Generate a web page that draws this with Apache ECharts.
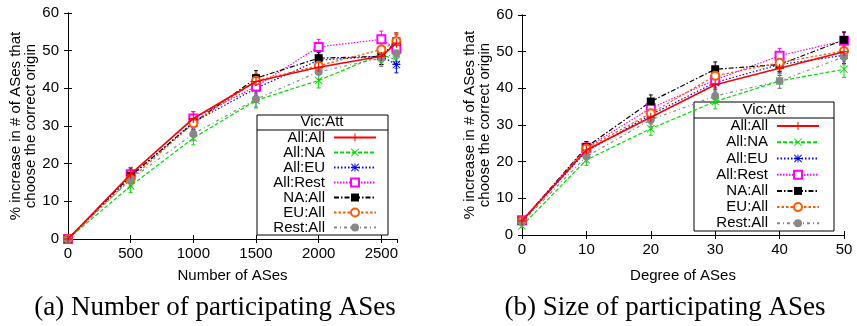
<!DOCTYPE html>
<html>
<head>
<meta charset="utf-8">
<script src="https://cdn.jsdelivr.net/npm/echarts@6/dist/echarts.min.js"></script>
<style>
html, body { margin: 0; padding: 0; background: #fff; }
#chart { width: 857px; height: 326px; }
</style>
</head>
<body>
<div id="chart"></div>
<script>
// (a) number of participating ASes
const xA = [0, 500, 1000, 1500, 2000, 2500, 2620];
const allAllA = [0, 17.2, 32, 41.8, 45.6, 48.5, 52];
const allNaA = [0, 14.1, 26.8, 36.8, 42.1, 49, 47.5];
const allEuA = [0, 16.5, 31, 40, 47.5, 48.5, 46.3];
const allRestA = [0, 17.2, 32, 40.5, 51, 53, 50.5];
const naAllA = [0, 16.8, 30.8, 42.7, 48, 48.5, 52.5];
const euAllA = [0, 15.9, 30.7, 42, 46, 50.3, 52.5];
const restAllA = [0, 15.8, 27.9, 37.1, 44.4, 48, 49.3];
const errA = [0, 1.8, 1.8, 2, 2, 2.2, 2.2];

// (b) size of participating ASes
const xB = [0, 10, 20, 30, 40, 50];
const allAllB = [3.8, 23.2, 32.1, 41, 45.5, 50];
const allNaB = [2.5, 20.5, 29, 36.4, 42, 45.2];
const allEuB = [3.8, 22.8, 32.8, 41.6, 46.5, 49];
const allRestB = [4, 23.8, 34.6, 42.3, 48.9, 53];
const naAllB = [3.8, 24, 36.4, 45.2, 46.5, 53.2];
const euAllB = [3.8, 23.6, 33.2, 43.4, 47, 50.2];
const restAllB = [3.5, 21.4, 31.4, 37.9, 42, 48.6];
const errB = [0.5, 1.5, 1.8, 2, 2, 2.2];

const names = ['All:All', 'All:NA', 'All:EU', 'All:Rest', 'NA:All', 'EU:All', 'Rest:All'];
const seriesA = [allAllA, allNaA, allEuA, allRestA, naAllA, euAllA, restAllA];
const seriesB = [allAllB, allNaB, allEuB, allRestB, naAllB, euAllB, restAllB];

const PLUS = 'path://M4.4,0h1.2v10h-1.2zM0,4.4h10v1.2h-10z';
const CROSS = 'path://M0,0.8L0.8,0L10,9.2L9.2,10zM9.2,0L10,0.8L0.8,10L0,9.2z';
const STAR = 'path://M4.4,0h1.2v10h-1.2zM0,4.4h10v1.2h-10zM0,0.8L0.8,0L10,9.2L9.2,10zM9.2,0L10,0.8L0.8,10L0,9.2z';

const looks = [
    { color: '#ff0000', dash: 'solid', width: 1.6, symbol: PLUS, size: 9, border: 0 },
    { color: '#00dd00', dash: [4, 2], width: 1.2, symbol: CROSS, size: 8, border: 0 },
    { color: '#0000ff', dash: [1.5, 2], width: 1.2, symbol: STAR, size: 8, border: 0 },
    { color: '#ff00ff', dash: [1.5, 1.5], width: 1.2, symbol: 'emptyRect', size: 8, border: 1.3 },
    { color: '#000000', dash: [5, 2, 1.5, 2], width: 1.2, symbol: 'rect', size: 8, border: 0 },
    { color: '#ff5a00', dash: [2.5, 2], width: 1.2, symbol: 'emptyCircle', size: 8, border: 1.3 },
    { color: '#888888', dash: [3, 3, 1, 3], width: 1.2, symbol: 'circle', size: 8, border: 0 },
];

const FONT = 'Liberation Sans';

function lineSeries(xs, ys, i, axis) {
    const lk = looks[i];
    return {
        name: names[i],
        type: 'line',
        xAxisIndex: axis,
        yAxisIndex: axis,
        data: xs.map((x, k) => [x, ys[k]]),
        symbol: lk.symbol,
        symbolSize: lk.size,
        showAllSymbol: true,
        animation: false,
        z: 3 + (i === 0 ? 1 : 0),
        lineStyle: { color: lk.color, width: lk.width, type: lk.dash },
        itemStyle: { color: lk.color, borderColor: lk.color, borderWidth: lk.border },
    };
}

function errSeries(xs, ys, errs, i, axis) {
    const color = looks[i].color;
    return {
        type: 'custom',
        xAxisIndex: axis,
        yAxisIndex: axis,
        silent: true,
        animation: false,
        z: 2,
        data: xs.map((x, k) => [x, ys[k], errs[k]]),
        renderItem: (params, api) => {
            const x = api.value(0), y = api.value(1), e = api.value(2);
            const lo = api.coord([x, y - e]);
            const hi = api.coord([x, y + e]);
            const s = { stroke: color, lineWidth: 1 };
            return {
                type: 'group',
                children: [
                    { type: 'line', shape: { x1: lo[0], y1: lo[1], x2: hi[0], y2: hi[1] }, style: s },
                    { type: 'line', shape: { x1: lo[0] - 2, y1: lo[1], x2: lo[0] + 2, y2: lo[1] }, style: s },
                    { type: 'line', shape: { x1: hi[0] - 2, y1: hi[1], x2: hi[0] + 2, y2: hi[1] }, style: s },
                ],
            };
        },
    };
}

function xAxes(grid, max, interval, title, gap) {
    const base = {
        gridIndex: grid,
        type: 'value',
        min: 0,
        max: max,
        interval: interval,
        splitLine: { show: false },
        axisLine: { lineStyle: { color: '#000', width: 1 } },
        axisTick: { inside: true, length: 4, lineStyle: { color: '#000' } },
    };
    return [
        Object.assign({}, base, {
            position: 'bottom',
            name: title,
            nameLocation: 'middle',
            nameGap: gap,
            nameTextStyle: { fontFamily: FONT, fontSize: 15, color: '#000' },
            axisLabel: {
                fontFamily: FONT, fontSize: 15, color: '#000', margin: 7,
                showMaxLabel: max % interval === 0,
                formatter: v => String(v),
            },
        }),
        Object.assign({}, base, { position: 'top', axisLabel: { show: false } }),
    ];
}

function yAxes(grid, gap) {
    const base = {
        gridIndex: grid,
        type: 'value',
        min: 0,
        max: 60,
        interval: 10,
        splitLine: { show: false },
        axisLine: { show: true, lineStyle: { color: '#000', width: 1 } },
        axisTick: { show: true, inside: true, length: 4, lineStyle: { color: '#000' } },
    };
    return [
        Object.assign({}, base, {
            position: 'left',
            name: '% increase in # of ASes that\nchoose the correct origin',
            nameLocation: 'middle',
            nameGap: gap,
            nameTextStyle: { fontFamily: FONT, fontSize: 15, lineHeight: 15, color: '#000' },
            axisLabel: { fontFamily: FONT, fontSize: 15, color: '#000', margin: 9 },
        }),
        Object.assign({}, base, { position: 'right', axisLabel: { show: false } }),
    ];
}

function legend(left, top, rowH) {
    return {
        data: names,
        orient: 'vertical',
        align: 'right',
        left: left,
        top: top,
        padding: 0,
        itemGap: 0,
        itemWidth: 42,
        itemHeight: 10,
        selectedMode: false,
        formatter: '{t|{name}}',
        textStyle: {
            fontFamily: FONT, fontSize: 15, lineHeight: rowH, color: '#000',
            rich: { t: { width: 52, align: 'right', fontFamily: FONT, fontSize: 15, lineHeight: rowH, padding: [0, 4, 0, 0] } },
        },
    };
}

const series = [];
seriesA.forEach((ys, i) => { series.push(errSeries(xA, ys, errA, i, 0)); });
seriesB.forEach((ys, i) => { series.push(errSeries(xB, ys, errB, i, 2)); });
seriesA.forEach((ys, i) => { series.push(lineSeries(xA, ys, i, 0)); });
seriesB.forEach((ys, i) => { series.push(lineSeries(xB, ys, i, 2)); });

const chart = echarts.init(document.getElementById('chart'), null, { renderer: 'canvas' });

chart.setOption({
    animation: false,
    backgroundColor: '#fff',
    grid: [
        { left: 68, top: 13, width: 329, height: 226 },
        { left: 522, top: 15, width: 322, height: 220 },
    ],
    xAxis: [].concat(xAxes(0, 2625, 500, 'Number of ASes', 29), xAxes(1, 50, 10, 'Degree of ASes', 33)),
    yAxis: [].concat(yAxes(0, 27), yAxes(1, 30)),
    legend: [legend(273, 130, 15), legend(716, 118, 16.2)],
    graphic: [
        { type: 'rect', shape: { x: 257, y: 115, width: 131, height: 120 }, style: { fill: 'none', stroke: '#000', lineWidth: 1 } },
        { type: 'line', shape: { x1: 257, y1: 130, x2: 388, y2: 130 }, style: { stroke: '#000', lineWidth: 1 } },
        { type: 'text', x: 322, y: 122, style: { text: 'Vic:Att', font: '15px "Liberation Sans"', fill: '#000', align: 'center', verticalAlign: 'middle' } },
        { type: 'rect', shape: { x: 694, y: 102, width: 140, height: 129 }, style: { fill: 'none', stroke: '#000', lineWidth: 1 } },
        { type: 'line', shape: { x1: 694, y1: 118, x2: 834, y2: 118 }, style: { stroke: '#000', lineWidth: 1 } },
        { type: 'text', x: 764, y: 110, style: { text: 'Vic:Att', font: '15px "Liberation Sans"', fill: '#000', align: 'center', verticalAlign: 'middle' } },
        { type: 'text', x: 215, y: 308, style: { text: '(a) Number of participating ASes', font: '27px "Liberation Serif"', fill: '#000', align: 'center', verticalAlign: 'middle' } },
        { type: 'text', x: 665, y: 308, style: { text: '(b) Size of participating ASes', font: '27px "Liberation Serif"', fill: '#000', align: 'center', verticalAlign: 'middle' } },
    ],
    series: series,
});
</script>
</body>
</html>
